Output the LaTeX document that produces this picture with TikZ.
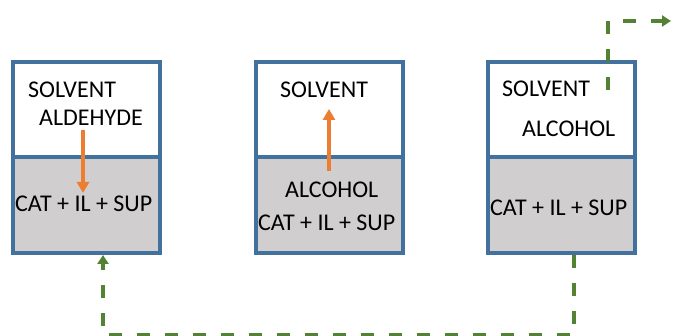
\documentclass[tikz,border=0pt]{standalone}
\usepackage{fontspec}
\setmainfont{Carlito}
\usetikzlibrary{arrows.meta}
\definecolor{boxblue}{HTML}{41719C}
\definecolor{catgray}{HTML}{D0CECE}
\definecolor{flowgreen}{HTML}{548235}
\definecolor{diffuse}{HTML}{ED7D31}

\begin{document}
\begin{tikzpicture}[x=1pt, y=-1pt,
    layer/.style={rectangle, draw=boxblue, line width=4pt, minimum width=147pt, minimum height=95pt, inner sep=0},
    solvbox/.style={layer, fill=white},
    catbox/.style={layer, fill=catgray, minimum height=96pt},
    lbl/.style={inner sep=0, anchor=base west, font=\fontsize{24}{28}\selectfont},
    move/.style={draw=diffuse, line width=4pt, -{Triangle[width=12pt,length=11pt]}},
    recycle/.style={draw=flowgreen, line width=4pt, dash pattern=on 13pt off 15pt, -{Triangle[width=11pt,length=9pt]}}]
        \useasboundingbox (0,0) rectangle (673,336);

        % solvent layer on top, catalyst layer below
        \foreach \i/\x in {1/86, 2/329, 3/561} {
          \node [solvbox] (top\i) at (\x,109.5) {};
          \node [catbox] (bot\i) at (\x,205) {};
        }

        \node [lbl] (sol1) at (28,98) {SOLVENT};
        \node [lbl] (ald1) at (39,126) {ALDEHYDE};
        \node [lbl] (cat1) at (15,212) {CAT + IL + SUP};

        \node [lbl] (sol2) at (280,98) {SOLVENT};
        \node [lbl] (alc2) at (285,198) {ALCOHOL};
        \node [lbl] (cat2) at (258,231) {CAT + IL + SUP};

        \node [lbl] (sol3) at (502,97) {SOLVENT};
        \node [lbl] (alc3) at (522,137) {ALCOHOL};
        \node [lbl] (cat3) at (490,216) {CAT + IL + SUP};

        % transfer between the layers
        \coordinate (down1) at (83,130);
        \coordinate (down2) at (83,193);
        \coordinate (up1) at (329,171);
        \coordinate (up2) at (329,109);
        \draw [move] (down1) -- (down2);
        \draw [move] (up1) -- (up2);

        % recycle of the catalyst layer, alcohol phase out
        \coordinate (drain) at ([xshift=13pt]bot3.south);
        \coordinate (feed) at ([xshift=17pt]bot1.south);
        \coordinate (takeoff) at (608,90);
        \coordinate (product) at (671,21);
        \draw [recycle] (drain) -- ++(0,80) -| (feed);
        \draw [recycle] (takeoff) |- (product);
      \end{tikzpicture}
\end{document}
